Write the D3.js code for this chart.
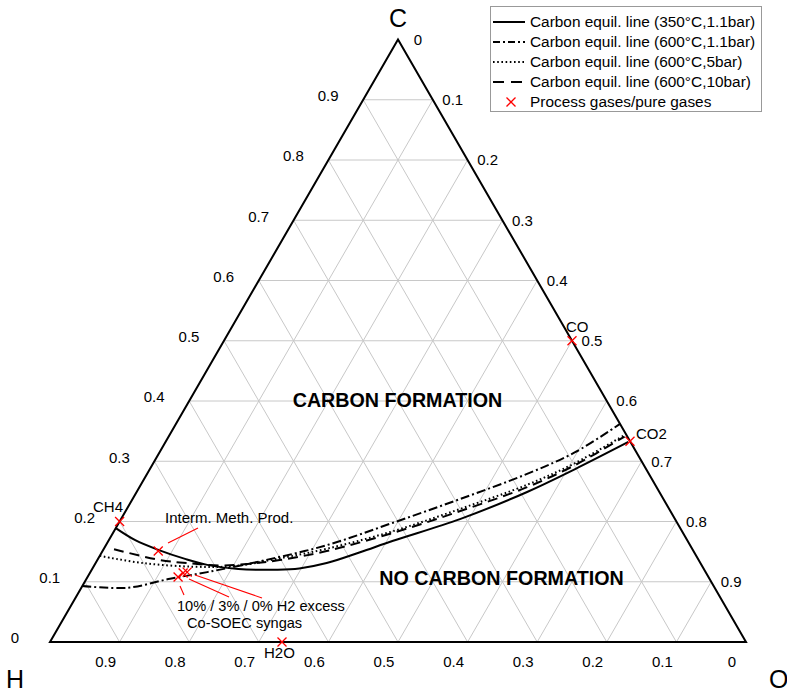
<!DOCTYPE html>
<html>
<head>
<meta charset="utf-8">
<script src="https://cdn.jsdelivr.net/npm/d3@7/dist/d3.min.js"></script>
<style>
  html, body { margin: 0; padding: 0; background: #fff; }
  svg { display: block; font-family: "Liberation Sans", Arial, sans-serif; }
</style>
</head>
<body>
<svg id="chart" width="787" height="693"></svg>
<script>
// ---- data (ternary fractions: C = carbon, O = oxygen, H = 1 - C - O) ----
const tickValues = [0, 0.1, 0.2, 0.3, 0.4, 0.5, 0.6, 0.7, 0.8, 0.9];
const gridValues = [0.1, 0.2, 0.3, 0.4, 0.5, 0.6, 0.7, 0.8, 0.9];

// [C, O]
const line350_1bar = [[0.189,0],[0.169,0.038],[0.153,0.079],[0.138,0.125],[0.128,0.162],[0.121,0.210],
  [0.120,0.265],[0.122,0.297],[0.131,0.332],[0.149,0.371],[0.168,0.409],[0.204,0.487],[0.249,0.561],[0.287,0.611],[0.332,0.665]];
const line600_1bar = [[0.093,0],[0.090,0.066],[0.105,0.120],[0.116,0.168],[0.134,0.235],[0.161,0.318],
  [0.198,0.394],[0.237,0.470],[0.279,0.546],[0.315,0.597],[0.362,0.638]];
const line600_5bar = [[0.143,0],[0.131,0.068],[0.125,0.143],[0.126,0.201],[0.139,0.261],[0.155,0.321],
  [0.184,0.401],[0.221,0.479],[0.261,0.555],[0.297,0.606],[0.344,0.654]];
const line600_10bar = [[0.154,0.015],[0.136,0.090],[0.131,0.131],[0.127,0.181],[0.130,0.223],[0.136,0.262],
  [0.151,0.322],[0.181,0.402],[0.217,0.480],[0.257,0.557],[0.294,0.608],[0.341,0.655]];

const gasNames = ["CH4", "CO", "CO2", "H2O", "Interm. Meth. Prod.", "SOEC 10%", "SOEC 3%", "SOEC 0%"];
const gasC = [0.2, 0.5, 1/3, 0, 0.151, 0.108, 0.1145, 0.116];
const gasO = [0, 0.5, 2/3, 1/3, 0.080, 0.130, 0.134, 0.139];

const legendLabels = ["Carbon equil. line (350°C,1.1bar)", "Carbon equil. line (600°C,1.1bar)",
  "Carbon equil. line (600°C,5bar)", "Carbon equil. line (600°C,10bar)", "Process gases/pure gases"];

// ---- layout ----
const svg = d3.select("#chart");
const x0 = 50, y0 = 642, W = 696, HT = 602.5;
const sx = d3.scaleLinear().domain([0, 1]).range([0, W]);
const sy = d3.scaleLinear().domain([0, 1]).range([y0, y0 - HT]);
const px = (c, o) => x0 + sx(o) + sx(c) / 2;
const py = (c) => sy(c);
const P = (c, o) => [px(c, o), py(c)];

// grid
const grid = svg.append("g").attr("stroke", "#c8c8c8").attr("stroke-width", 1).attr("fill", "none");
gridValues.forEach(k => {
  const segs = [
    [P(k, 0), P(k, 1 - k)],          // constant C
    [P(0, k), P(1 - k, k)],          // constant O
    [P(0, 1 - k), P(1 - k, 0)]       // constant H
  ];
  segs.forEach(s => grid.append("line")
    .attr("x1", s[0][0]).attr("y1", s[0][1]).attr("x2", s[1][0]).attr("y2", s[1][1]));
});

// triangle border
svg.append("path")
  .attr("d", d3.line()([P(0, 0), P(0, 1), P(1, 0)]) + "Z")
  .attr("fill", "none").attr("stroke", "#000").attr("stroke-width", 2).attr("stroke-linejoin", "miter");

// tick labels
const tl = svg.append("g").attr("font-size", 15).attr("fill", "#000").attr("text-anchor", "middle");
tickValues.forEach(v => {
  const lab = v === 0 ? "0" : v.toFixed(1);
  tl.append("text").attr("x", px(v, 0) - 35).attr("y", py(v) - 4).attr("dy", "0.35em").text(lab);       // C
  tl.append("text").attr("x", px(1 - v, v) + 20).attr("y", py(1 - v)).attr("dy", "0.35em").text(lab);   // O
  tl.append("text").attr("x", px(0, 1 - v) - 14).attr("y", 662).attr("dy", "0.35em").text(lab);         // H
});

// corner labels
svg.append("text").attr("x", px(1, 0)).attr("y", 18).attr("dy", "0.35em").attr("text-anchor", "middle").attr("font-size", 25).text("C");
svg.append("text").attr("x", 15).attr("y", 679).attr("dy", "0.35em").attr("text-anchor", "middle").attr("font-size", 25).text("H");
svg.append("text").attr("x", 769).attr("y", 679).attr("dy", "0.35em").attr("text-anchor", "start").attr("font-size", 25).text("O");

// region labels
svg.append("text").attr("x", 397.5).attr("y", 400).attr("dy", "0.35em").attr("text-anchor", "middle")
  .attr("font-size", 19.7).attr("font-weight", "bold").text("CARBON FORMATION");
svg.append("text").attr("x", 501.5).attr("y", 578).attr("dy", "0.35em").attr("text-anchor", "middle")
  .attr("font-size", 19.7).attr("font-weight", "bold").text("NO CARBON FORMATION");

// curves
const lineGen = d3.line().x(d => px(d[0], d[1])).y(d => py(d[0])).curve(d3.curveCatmullRom.alpha(0.5));
const styles = [
  { data: line350_1bar, dash: null },
  { data: line600_1bar, dash: "9,3,2,3" },
  { data: line600_5bar, dash: "1.6,2.6" },
  { data: line600_10bar, dash: "10,6" }
];
styles.forEach(s => {
  svg.append("path").attr("d", lineGen(s.data)).attr("fill", "none")
    .attr("stroke", "#000").attr("stroke-width", 2)
    .attr("stroke-dasharray", s.dash);
});

// markers
function xMark(g, x, y, r) {
  g.append("path").attr("d", `M${x - r},${y - r}L${x + r},${y + r}M${x - r},${y + r}L${x + r},${y - r}`)
    .attr("stroke", "#ff0000").attr("stroke-width", 1.3).attr("fill", "none");
}
const mk = svg.append("g");
gasNames.forEach((n, i) => xMark(mk, px(gasC[i], gasO[i]), py(gasC[i]), 4.5));

// annotation labels
const al = svg.append("g").attr("font-size", 15).attr("fill", "#000");
al.append("text").attr("x", 93).attr("y", 507).attr("dy", "0.35em").text("CH4");
al.append("text").attr("x", 566).attr("y", 327).attr("dy", "0.35em").text("CO");
al.append("text").attr("x", 636).attr("y", 434).attr("dy", "0.35em").text("CO2");
al.append("text").attr("x", 264).attr("y", 653).attr("dy", "0.35em").text("H2O");
al.append("text").attr("x", 165).attr("y", 518).attr("dy", "0.35em").text("Interm. Meth. Prod.");
al.append("text").attr("x", 177).attr("y", 606).attr("dy", "0.35em").attr("font-size", 14.6).text("10% / 3% / 0% H2 excess");
al.append("text").attr("x", 187).attr("y", 623).attr("dy", "0.35em").attr("font-size", 14.6).text("Co-SOEC syngas");

// leader lines (red)
const leaders = svg.append("g").attr("stroke", "#ff0000").attr("stroke-width", 1.1);
[[168, 543, 198, 528], [180, 586, 184, 595], [189, 579, 229, 597], [195, 575, 262, 598]].forEach(l =>
  leaders.append("line").attr("x1", l[0]).attr("y1", l[1]).attr("x2", l[2]).attr("y2", l[3]));

// legend
const lg = svg.append("g");
lg.append("rect").attr("x", 490.5).attr("y", 6.5).attr("width", 271).attr("height", 105)
  .attr("fill", "#fff").attr("stroke", "#999").attr("stroke-width", 1);
const legDash = [null, "7,3,2,3", "1.6,2.6", "11,7"];
legendLabels.forEach((t, i) => {
  const y = 22 + i * 20;
  if (i < 4) {
    lg.append("line").attr("x1", 493).attr("x2", 525).attr("y1", y).attr("y2", y)
      .attr("stroke", "#000").attr("stroke-width", 2).attr("stroke-dasharray", legDash[i]);
  } else {
    xMark(lg, 511, y, 4.5);
  }
  lg.append("text").attr("x", 530).attr("y", y).attr("dy", "0.35em").attr("font-size", 15.4).text(t);
});
</script>
</body>
</html>
